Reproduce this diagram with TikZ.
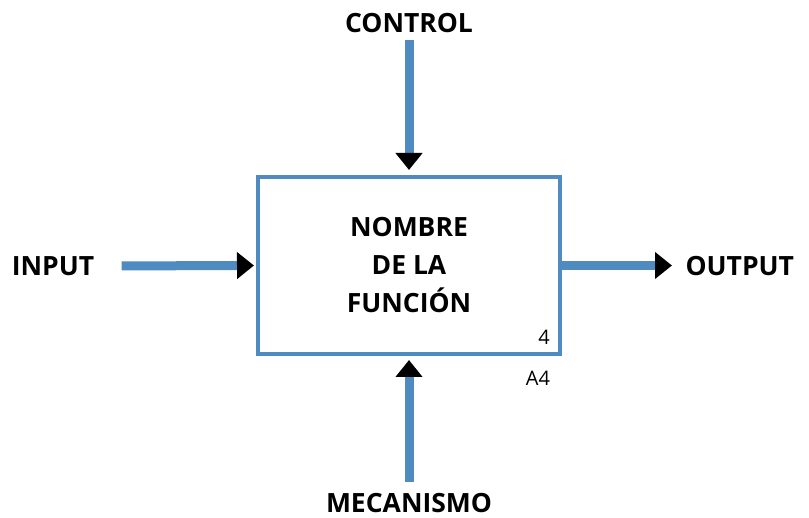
\documentclass[tikz,border=0pt]{standalone}
\usepackage{fontspec}
\setmainfont{Open Sans}
\usetikzlibrary{arrows.meta,positioning}
\definecolor{idefblue}{RGB}{79,139,193}
\tikzset{
  ioname/.style={font=\bfseries\fontsize{26.5}{30}\selectfont},
  flow/.style={draw=idefblue, line width=9pt, -{Triangle[width=26pt,length=17pt,color=black]}},
}
\begin{document}
\begin{tikzpicture}[x=1pt, y=-1pt]
          \useasboundingbox (0,0) rectangle (809,518);
          \node[draw=idefblue, line width=4pt, minimum width=302pt, minimum height=177pt, align=center,
                font=\bfseries\fontsize{26.5}{38}\selectfont] (fn) at (409,265.5) {NOMBRE\\DE LA\\FUNCIÓN};
          \node[ioname] (ctrl) at (409,23) {CONTROL};
          \node[ioname] (in) at (53,266) {INPUT};
          \node[ioname, anchor=west] (out) at (682,266) {OUTPUT};
          \node[ioname] (mec) at (409,503) {MECANISMO};
          \node[font=\fontsize{20}{22}\selectfont] (num) at (544,337) {4};
          \node[font=\fontsize{20}{22}\selectfont] (ref) at (538,378) {A4};

          \draw[flow, shorten <=4pt] (ctrl.south) -- ([yshift=5pt]fn.north);
          \draw[flow, shorten <=24pt, shorten >=2pt] (in.east) -- (fn.west);
          \draw[flow, shorten >=10pt] (fn.east) -- (fn.east -| out.west);
          \draw[flow, shorten <=8pt] (mec.north) -- ([yshift=-4pt]fn.south);
    \end{tikzpicture}
\end{document}
